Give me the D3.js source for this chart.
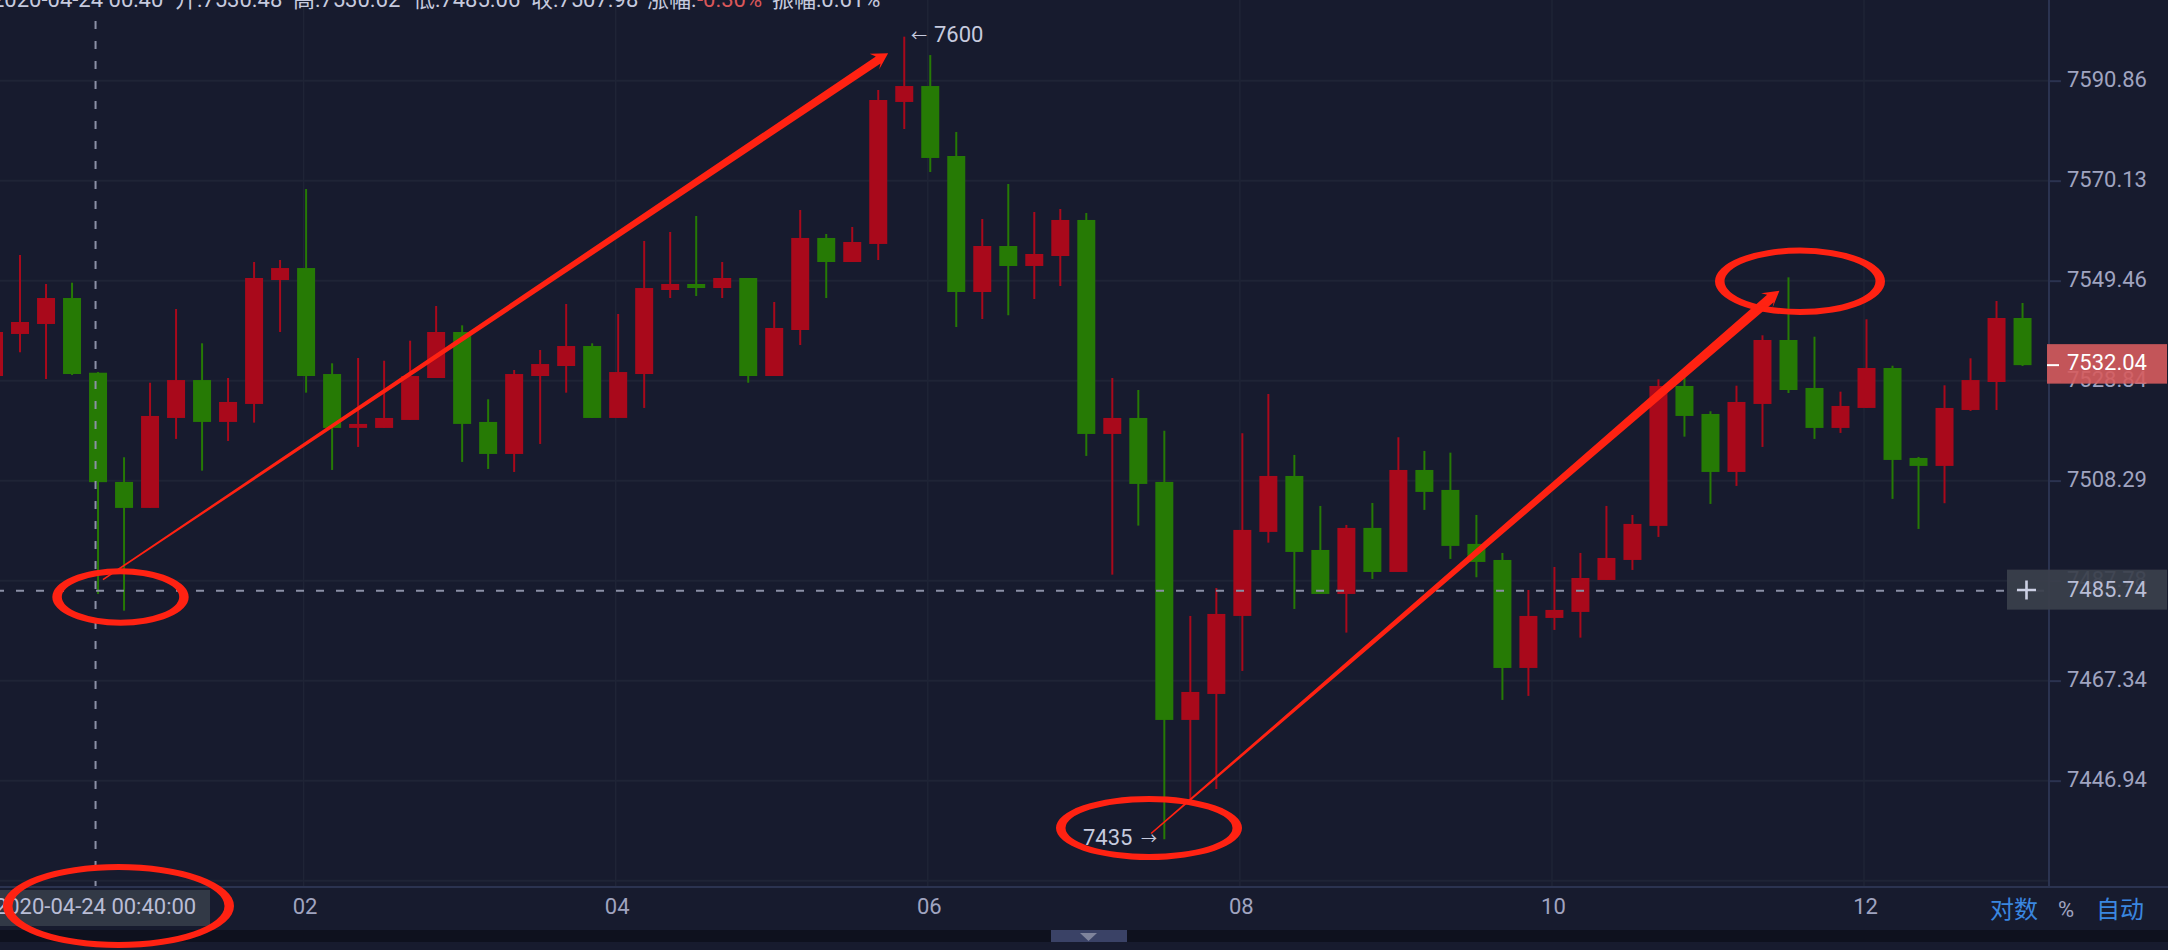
<!DOCTYPE html>
<html>
<head>
<meta charset="utf-8">
<script src="https://cdn.jsdelivr.net/npm/d3@7/dist/d3.min.js"></script>
<style>
  html, body { margin: 0; padding: 0; background: #171b2e; overflow: hidden; }
  text { font-family: Roboto, "Noto Sans CJK SC", sans-serif; }
</style>
</head>
<body>
<div id="chart"></div>
<script>
// 10 minute candles, first one at 00:00
var opens = [7529.80,7538.46,7540.52,7545.88,7530.48,7508.02,7502.69,7521.17,7528.97,7520.35,
  7524.05,7549.59,7552.07,7530.21,7519.12,7519.12,7520.76,7529.39,7538.87,7520.35,
  7513.77,7529.80,7531.86,7535.98,7521.17,7530.21,7547.53,7548.77,7547.94,7550.01,
  7529.80,7539.28,7558.28,7553.31,7557.04,7586.44,7589.75,7575.24,7547.12,7556.62,
  7552.49,7554.55,7562.00,7517.88,7521.17,7508.02,7459.32,7464.62,7480.56,7497.77,
  7509.25,7494.07,7485.06,7498.59,7489.56,7510.48,7506.38,7495.31,7492.02,7469.93,
  7480.15,7481.38,7487.92,7492.02,7499.00,7527.75,7521.99,7510.07,7524.05,7537.22,
  7527.34,7519.12,7523.23,7531.45,7512.95,7511.31,7522.81,7528.57,7541.76];
var highs = [7540.00,7554.76,7548.77,7549.04,7530.62,7513.09,7528.42,7543.61,7536.54,7529.39,
  7553.31,7553.73,7568.40,7532.42,7533.51,7532.95,7537.08,7544.23,7540.25,7525.01,
  7531.04,7535.16,7544.65,7536.54,7542.58,7557.66,7559.52,7562.82,7553.31,7550.01,
  7545.06,7564.06,7559.10,7560.55,7588.92,7600.00,7596.18,7580.22,7562.20,7569.44,
  7563.65,7564.27,7563.44,7529.39,7526.92,7518.56,7480.56,7486.28,7518.03,7526.10,
  7513.57,7503.10,7499.20,7503.71,7517.20,7514.39,7514.04,7501.25,7493.46,7485.87,
  7490.59,7493.46,7503.10,7501.25,7529.12,7529.80,7522.55,7527.81,7538.19,7550.15,
  7537.90,7526.58,7541.49,7531.92,7513.16,7527.89,7533.45,7545.26,7544.85];
var lows = [7527.00,7534.69,7529.18,7530.00,7485.06,7481.64,7502.69,7516.86,7510.34,7516.44,
  7520.21,7538.87,7526.37,7510.48,7515.21,7519.12,7520.76,7529.39,7512.13,7510.69,
  7510.07,7515.83,7526.37,7521.17,7521.17,7523.23,7545.88,7546.29,7545.88,7528.42,
  7529.80,7536.19,7545.88,7553.31,7553.73,7580.84,7571.92,7539.90,7541.55,7542.32,
  7545.68,7548.36,7513.36,7489.01,7499.06,7435.00,7443.00,7445.24,7469.32,7495.57,
  7481.99,7485.06,7477.15,7488.13,7489.56,7502.28,7492.23,7488.48,7463.40,7464.22,
  7477.70,7476.12,7487.92,7489.97,7496.74,7517.33,7503.51,7507.20,7515.21,7526.31,
  7516.86,7518.09,7523.23,7504.54,7498.38,7503.65,7522.61,7522.81,7531.86];
var closes = [7538.87,7540.93,7545.88,7530.21,7507.98,7502.69,7521.58,7528.97,7520.35,7524.46,
  7550.01,7552.07,7529.80,7519.12,7519.94,7521.17,7529.80,7538.87,7519.94,7513.77,
  7530.21,7532.27,7535.98,7521.17,7530.62,7547.94,7548.77,7547.94,7550.01,7529.80,
  7539.70,7558.28,7553.31,7557.45,7586.85,7589.75,7574.83,7547.12,7556.62,7552.49,
  7554.97,7562.00,7517.88,7521.17,7507.61,7459.32,7465.03,7480.97,7498.18,7509.25,
  7493.66,7485.06,7498.59,7489.56,7510.48,7505.97,7494.90,7491.61,7469.93,7480.56,
  7481.79,7488.33,7492.43,7499.41,7527.75,7521.58,7510.07,7524.46,7537.22,7526.92,
  7519.12,7523.64,7531.45,7512.54,7511.31,7523.23,7528.97,7541.76,7532.04];

var priceTicks = [7590.86,7570.13,7549.46,7528.84,7508.29,7487.78,7467.34,7446.94];
var hourTicks = [2,4,6,8,10,12];
var lastPrice = 7532.04;
var crossPrice = 7485.74;
var crossHour = 40 / 60;

var W = 2168, H = 950;
var plotW = 2048, plotH = 886;

var bg = "#171b2e", gridColor = "#1f2436", axisColor = "#2b3350";
var upColor = "#a9091b", downColor = "#267a05", annot = "#ff2212";
var labelColor = "#a0a4c0", textColor = "#c6cade";

var svg = d3.select("#chart").append("svg")
  .attr("width", W).attr("height", H)
  .style("display", "block")
  .style("background", bg);

var x = d3.scaleLinear().domain([2, 12]).range([303.6, 1864]);
// the price axis of the picture is a log axis
var y = d3.scaleLog().domain([7446.94, 7590.86]).range([780.67, 80.67]);
var candleX = function(i) { return x(i / 6) + 2.5; };

// grid
var gridPrices = priceTicks.concat([7426.59]);
svg.append("g").selectAll("line").data(gridPrices).enter().append("line")
  .attr("x1", 0).attr("x2", plotW)
  .attr("y1", function(d) { return y(d); }).attr("y2", function(d) { return y(d); })
  .attr("stroke", gridColor).attr("stroke-width", 2);
svg.append("g").selectAll("line").data(hourTicks).enter().append("line")
  .attr("x1", function(d) { return x(d); }).attr("x2", function(d) { return x(d); })
  .attr("y1", 0).attr("y2", plotH)
  .attr("stroke", gridColor).attr("stroke-width", 1.5);

// candles
var candles = svg.append("g").selectAll("g").data(opens).enter().append("g")
  .attr("fill", function(d, i) { return closes[i] >= d ? upColor : downColor; })
  .attr("stroke", function(d, i) { return closes[i] >= d ? upColor : downColor; });
candles.append("line")
  .attr("x1", function(d, i) { return candleX(i); })
  .attr("x2", function(d, i) { return candleX(i); })
  .attr("y1", function(d, i) { return y(highs[i]); })
  .attr("y2", function(d, i) { return y(lows[i]); })
  .attr("stroke-width", 2);
candles.append("rect")
  .attr("x", function(d, i) { return candleX(i) - 9; })
  .attr("width", 18)
  .attr("y", function(d, i) { return y(Math.max(d, closes[i])); })
  .attr("height", function(d, i) { return Math.abs(y(d) - y(closes[i])); })
  .attr("stroke", "none");

// crosshair
svg.append("line")
  .attr("x1", x(crossHour)).attr("x2", x(crossHour))
  .attr("y1", 21).attr("y2", plotH)
  .attr("stroke", "#8b90a6").attr("stroke-width", 2).attr("stroke-dasharray", "8 12");
svg.append("line")
  .attr("x1", 0).attr("x2", 2044)
  .attr("y1", y(crossPrice)).attr("y2", y(crossPrice))
  .attr("stroke", "#8b90a6").attr("stroke-width", 2)
  .attr("stroke-dasharray", "8 12").attr("stroke-dashoffset", 4);

// right axis
svg.append("rect").attr("x", plotW).attr("y", 0).attr("width", 2).attr("height", plotH).attr("fill", axisColor);
var yAxis = d3.axisRight(y).tickValues(priceTicks).tickFormat(d3.format(".2f")).tickSize(12).tickPadding(6);
var yg = svg.append("g").attr("transform", "translate(" + (plotW + 1) + ",0)").call(yAxis);
yg.select(".domain").remove();
yg.selectAll("line").attr("stroke", axisColor).attr("stroke-width", 2);
yg.selectAll("text").attr("fill", labelColor).attr("font-size", 22).attr("dy", "0.28em");

// bottom axis
svg.append("rect").attr("x", 0).attr("y", plotH).attr("width", W).attr("height", 2).attr("fill", axisColor);
var xAxis = d3.axisBottom(x).tickValues(hourTicks).tickFormat(d3.format("02")).tickSize(0).tickPadding(0);
var xg = svg.append("g").attr("transform", "translate(1,903)").call(xAxis);
xg.select(".domain").remove();
xg.selectAll("text").attr("fill", labelColor).attr("font-size", 22).attr("dy", "0.5em").attr("y", 0);

// scroll bar under the axis
svg.append("rect").attr("x", 0).attr("y", 930).attr("width", W).attr("height", 12).attr("fill", "#0e111e");
svg.append("rect").attr("x", 1051).attr("y", 930).attr("width", 76).attr("height", 12).attr("fill", "#3a4266");
svg.append("path").attr("d", "M1080,933 L1097,933 L1088.5,941 Z").attr("fill", "#7f849c");

// crosshair labels
svg.append("rect").attr("x", 0).attr("y", 890).attr("width", 210).attr("height", 36).attr("fill", "#323946");
svg.append("text").attr("x", x(crossHour)).attr("y", 914).attr("text-anchor", "middle")
  .attr("font-size", 22).attr("fill", "#b9bdd6").text("2020-04-24 00:40:00");
svg.append("rect").attr("x", 2007).attr("y", y(crossPrice) - 21).attr("width", 160).attr("height", 40)
  .attr("fill", "#3a3f4b").attr("fill-opacity", 0.93);
svg.append("text").attr("x", 2067).attr("y", y(crossPrice) + 6).attr("font-size", 22)
  .attr("fill", "#b9bdd6").text(crossPrice.toFixed(2));
svg.append("path").attr("d", "M2017,590 H2036 M2026.5,580.5 V599.5")
  .attr("stroke", "#ccd0e4").attr("stroke-width", 2.6).attr("fill", "none");

// last price label
svg.append("rect").attr("x", 2047).attr("y", y(lastPrice) - 21).attr("width", 120).attr("height", 39.5)
  .attr("fill", "#d65c5e").attr("fill-opacity", 0.9);
svg.append("line").attr("x1", 2047).attr("x2", 2059).attr("y1", y(lastPrice)).attr("y2", y(lastPrice))
  .attr("stroke", "#fff").attr("stroke-width", 2);
svg.append("text").attr("x", 2067).attr("y", y(lastPrice) + 5).attr("font-size", 22)
  .attr("fill", "#fff").text(lastPrice.toFixed(2));

// header, cut off by the top of the window in the picture
var header = [
  ["2020-04-24 00:40", -8, textColor],
  ["开:7530.48", 175, textColor],
  ["高:7530.62", 293, textColor],
  ["低:7485.06", 413, textColor],
  ["收:7507.98", 531, textColor],
  ["涨幅:", 647, textColor],
  ["-0.30%", 697, "#d9575a"],
  ["振幅:0.61%", 772, textColor]
];
svg.append("g").selectAll("text").data(header).enter().append("text")
  .attr("x", function(d) { return d[1]; }).attr("y", 7)
  .attr("font-size", 22)
  .attr("fill", function(d) { return d[2]; })
  .text(function(d) { return d[0]; });

// bottom right buttons
svg.append("text").attr("x", 1990).attr("y", 918).attr("font-size", 24).attr("fill", "#3a87e0").text("对数");
svg.append("text").attr("x", 2058).attr("y", 917).attr("font-size", 22).attr("fill", labelColor).text("%");
svg.append("text").attr("x", 2096).attr("y", 918).attr("font-size", 24).attr("fill", "#3a87e0").text("自动");

// high and low notes
svg.append("text").attr("x", 911).attr("y", 41).attr("font-size", 16).attr("fill", textColor).text("←");
svg.append("text").attr("x", 934).attr("y", 42).attr("font-size", 22).attr("fill", textColor).text("7600");
svg.append("text").attr("x", 1083).attr("y", 845).attr("font-size", 22).attr("fill", textColor).text("7435");
svg.append("text").attr("x", 1141).attr("y", 844).attr("font-size", 16).attr("fill", textColor).text("→");

// hand drawn red marks
function arrow(x0, y0, x1, y1, w0, w1) {
  var a = Math.atan2(y1 - y0, x1 - x0);
  var cx = Math.cos(a), cy = Math.sin(a);
  var nx = -cy, ny = cx;
  // point at "back" behind the tip and "side" off the shaft
  var at = function(back, side) {
    return [x1 - cx * back + nx * side, y1 - cy * back + ny * side];
  };
  var pts = [
    [x0 + nx * w0 / 2, y0 + ny * w0 / 2],
    at(12, w1 / 2),
    at(16.5, 8.5),
    [x1, y1],
    at(15.5, -10),
    at(12, -w1 / 2),
    [x0 - nx * w0 / 2, y0 - ny * w0 / 2]
  ];
  svg.append("path").attr("d", d3.line()(pts) + "Z").attr("fill", annot);
}
arrow(x(0.714), y(7488.0), x(5.746), y(7596.53), 1.5, 8.5);
arrow(x(7.431), y(7436.2), x(11.458), y(7547.39), 1.5, 10);

// the rings were squashed by the screenshot, so they are thicker at the sides
function ellipsePath(cx, cy, rx, ry) {
  return "M" + (cx - rx) + "," + cy +
    "A" + rx + "," + ry + " 0 1,0 " + (cx + rx) + "," + cy +
    "A" + rx + "," + ry + " 0 1,0 " + (cx - rx) + "," + cy + "Z";
}
var rings = [
  [120.5, 597, 68.2, 28.8],
  [118.5, 906, 115.5, 42],
  [1149, 828, 93, 32],
  [1800, 281.3, 85, 33.7]
];
svg.append("g").selectAll("path").data(rings).enter().append("path")
  .attr("d", function(d) {
    return ellipsePath(d[0], d[1], d[2], d[3]) + ellipsePath(d[0], d[1], d[2] - 9.5, d[3] - 6);
  })
  .attr("fill", annot).attr("fill-rule", "evenodd");
</script>
</body>
</html>
